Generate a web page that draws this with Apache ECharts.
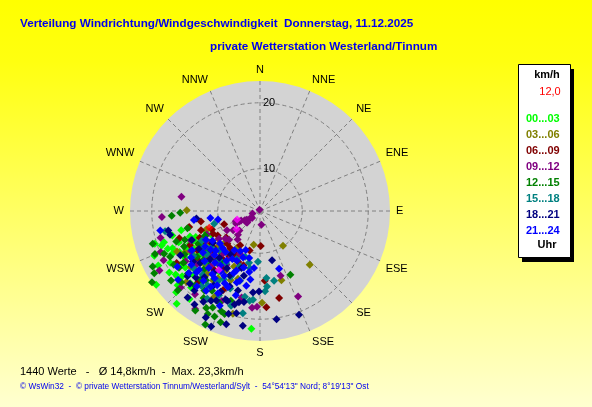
<!DOCTYPE html>
<html lang="de">
<head>
<meta charset="UTF-8">
<title>Windrose</title>
<script src="https://cdn.jsdelivr.net/npm/echarts@6.0.0/dist/echarts.min.js"></script>
<style>
  html, body { margin: 0; padding: 0; }
  #main { width: 592px; height: 407px; }
</style>
</head>
<body>
<div id="main"></div>
<script>
// Achsen
var dirLabels = ['N', 'NNE', 'NE', 'ENE', 'E', 'ESE', 'SE', 'SSE', 'S', 'SSW', 'SW', 'WSW', 'W', 'WNW', 'NW', 'NNW']
var speedTicks = [10, 20]
var slotNames = ['00...03', '03...06', '06...09', '09...12', '12...15', '15...18', '18...21', '21...24']
var slotColors = ['#00ff00', '#808000', '#800000', '#800080', '#008000', '#008080', '#000080', '#0000ff']

// Messwerte [km/h, Richtung in Grad]
var h00 = [[20.3, 252.7], [21.5, 184.2], [22.9, 234.6], [22.5, 221.9], [15.9, 256.2], [19.4, 250.7], [18.7, 247.8], [17.4, 254.4], [21.1, 241.8], [20.2, 235.9], [21.3, 225.9], [20.7, 218.7], [16.2, 243], [15.1, 240], [14.6, 246], [17.0, 238], [16.5, 232], [18.2, 236], [13.8, 242], [15.5, 229], [17.6, 226], [19.0, 230], [14.2, 235], [12.9, 238], [16.8, 249], [18.4, 244], [13.5, 228], [15.9, 222], [17.9, 219], [14.7, 214], [12.6, 231], [11.8, 244], [19.3, 240], [16.0, 236], [14.9, 250], [18.8, 224],
  [15.3, 245], [16.7, 241], [14.1, 248], [17.8, 233], [13.2, 240], [15.8, 238], [16.9, 229], [18.0, 247], [14.5, 231], [12.4, 250], [17.3, 243], [15.0, 234],
  [19.6, 233], [20.4, 228], [18.9, 252], [21.0, 247], [19.2, 222]]
var h03 = [[14.7, 270.5], [8.8, 190.6], [9.9, 146.4], [14.7, 137.2], [14.6, 162.8], [17.5, 178.7], [19.7, 194.8], [12.2, 250.9], [13.4, 232], [15.2, 225], [11.6, 218], [14.1, 210], [16.3, 214], [10.8, 228], [12.9, 205], [15.7, 236], [13.0, 244], [17.1, 231], [11.2, 236], [14.4, 198], [12.3, 222], [16.6, 241], [10.2, 212], [13.9, 217], [15.0, 203],
  [12.6, 238], [14.9, 229], [11.8, 209], [13.5, 224], [16.0, 220], [12.0, 230], [14.2, 241], [15.6, 212],
  [18.3, 208], [19.1, 226], [17.6, 244]]
var h06 = [[12.7, 260], [9.4, 249.7], [8.9, 178.8], [14.2, 176.1], [17.1, 167.6], [18.2, 176.2], [14.6, 257.2], [16.5, 251.4], [9.8, 194.7], [11.0, 240], [12.4, 236], [13.6, 246], [10.6, 225], [11.9, 214], [13.1, 229], [12.0, 203], [14.8, 238], [10.1, 232], [12.8, 219], [15.4, 244], [11.4, 249], [13.7, 221], [9.6, 210], [12.2, 197], [14.0, 213],
  [11.5, 244], [13.3, 241], [12.6, 232], [14.4, 227], [10.8, 219], [15.6, 233], [11.2, 208], [13.0, 252], [12.1, 226], [14.9, 218],
  [17.9, 221], [16.8, 205], [18.5, 238]]
var h09 = [[15.7, 280.2], [18.5, 266.5], [19.2, 255], [19.9, 247.6], [3.8, 337], [5.5, 233.6], [6.3, 238.7], [6.3, 229.5], [5.7, 174.1], [13.9, 162.4], [17.8, 156], [18.1, 181.8], [18.3, 184.7], [21.4, 213.5], [21.3, 239.4], [4.8, 251], [6.2, 228], [6.8, 243.4], [7.1, 243], [7.7, 241.9], [8.6, 234.4], [7.9, 226.5], [9.4, 239.7], [6.0, 236], [5.2, 228], [7.6, 247], [10.3, 231], [11.6, 226], [12.9, 241], [9.1, 218], [14.3, 233], [13.2, 212], [16.1, 230], [10.8, 205], [15.0, 247], [12.1, 221], [17.2, 236], [8.5, 223],
  [11.1, 236], [13.6, 228], [12.4, 246], [14.8, 222], [10.0, 227], [15.7, 240], [11.9, 212],
  [19.6, 218], [20.3, 226], [18.4, 203], [17.0, 192], [20.0, 243]]
var h12 = [[15.7, 268.8], [17.0, 267], [20.8, 247.8], [14.3, 154.5], [22.2, 239.5], [23.2, 236.6], [21.5, 199.5], [21.0, 203.3], [22.7, 205.7], [19.9, 201.1], [21.9, 242.7], [14.9, 256.7], [20.7, 232], [19.7, 227.9], [19.9, 206.1], [21.1, 206.9], [20.1, 199], [20.6, 253], [16.8, 240], [15.4, 234], [18.1, 229], [17.3, 221], [13.9, 238], [18.9, 243], [16.0, 214], [14.5, 226], [12.7, 246], [17.7, 211], [15.8, 249], [13.3, 217],
  [16.3, 245], [17.6, 236], [15.0, 229], [18.6, 235], [14.2, 242], [16.9, 218], [19.0, 238], [13.6, 232], [17.1, 250], [15.9, 224], [18.3, 215],
  [19.3, 213], [20.4, 209], [18.6, 221], [20.9, 226], [19.5, 246], [18.8, 204], [21.6, 213], [17.9, 198]]
var h15 = [[18.3, 258], [10.8, 254.5], [14.4, 168.6], [15.1, 174.7], [15.8, 176.4], [17.3, 186.6], [17.1, 184.5], [19.3, 189.5], [11.3, 182.3], [13.8, 174.5], [12.4, 190], [14.6, 196], [16.2, 201], [11.7, 206], [13.0, 213], [15.3, 208], [17.4, 215], [12.1, 226], [14.0, 231], [16.6, 222], [10.9, 198], [15.8, 236], [18.0, 218], [13.5, 243],
  [13.2, 220], [15.0, 227], [12.5, 200], [14.5, 204], [16.0, 211], [11.6, 192], [13.9, 237], [16.9, 229], [12.8, 233],
  [18.6, 197], [17.8, 206], [19.1, 211], [16.8, 190]]
var h18 = [[17.8, 258], [17.7, 255.2], [13.3, 263.2], [11.3, 166.3], [20.4, 159.4], [20.2, 171.3], [21.2, 188.5], [18.3, 195.2], [17.8, 193], [15.8, 180.7], [16.0, 184.9], [22.6, 202.9], [21.5, 196.6], [20.7, 219.9], [19.2, 219.5], [19.1, 208.6], [18.1, 199.9], [16.1, 195.5], [18.0, 201.2], [19.5, 193], [14.4, 205], [13.0, 221], [15.6, 229], [16.9, 212], [12.2, 236], [17.4, 241], [14.8, 247], [11.5, 214], [13.7, 194],
  [15.2, 217], [14.1, 226], [16.3, 233], [17.6, 224], [13.6, 210], [12.7, 198], [15.9, 202], [17.2, 206], [14.5, 238], [18.4, 228], [16.7, 220],
  [19.8, 212], [20.9, 215], [18.7, 206], [17.6, 190], [19.9, 197], [21.7, 207], [18.9, 224]]
var h21 = [[19.0, 259], [13.7, 262.2], [11.2, 261.9], [10.1, 258.4], [12.8, 161.7], [13.3, 201.7], [15.1, 190.4], [14.6, 196.3], [12.0, 210], [13.8, 216], [15.2, 222], [11.1, 200], [12.6, 228], [14.3, 234], [16.4, 226], [10.4, 206], [13.0, 190], [11.7, 220], [15.9, 214], [17.2, 219], [12.9, 242], [14.8, 209], [16.1, 203], [10.9, 193], [13.5, 237], [11.4, 231], [17.6, 207], [15.5, 240], [12.3, 186], [9.9, 200], [14.1, 188], [16.8, 232], [18.2, 214],
  [12.7, 214], [14.0, 221], [13.2, 226], [15.6, 217], [11.9, 205], [14.9, 228], [16.6, 210], [12.5, 196], [13.8, 203], [15.0, 198], [11.6, 225], [14.5, 213], [16.2, 236], [13.1, 232], [12.1, 238], [17.0, 226], [10.7, 213], [15.8, 206],
  [18.5, 220], [17.9, 229], [19.2, 203], [18.7, 236], [16.9, 196], [17.3, 213], [19.8, 230]]
var redPts = [[11.7, 251.7]]
var pinkPts = [[7.3, 249.5], [8.1, 232.2], [14.5, 215]]
var calm = [[3.6, 0]]

var slots = [h00, h03, h06, h09, h12, h15, h18, h21]

var font = 'Liberation Sans'
var grid = { color: '#808080', width: 1, type: [4, 3] }
var chart = echarts.init(document.getElementById('main'))

var series = [{
  type: 'scatter',
  coordinateSystem: 'polar',
  polarIndex: 0,
  data: calm,
  symbol: 'rect',
  symbolSize: 6,
  itemStyle: { color: '#909090' },
  z: 3,
  silent: true
}]
slots.forEach(function (d, i) {
  series.push({
    name: slotNames[i],
    type: 'scatter',
    coordinateSystem: 'polar',
    polarIndex: 0,
    data: d,
    symbol: 'diamond',
    symbolSize: 8,
    itemStyle: { color: slotColors[i], opacity: 1 },
    z: 3,
    silent: true
  })
})
series.push({ type: 'scatter', coordinateSystem: 'polar', polarIndex: 0, data: redPts, symbol: 'diamond', symbolSize: 8, itemStyle: { color: '#ff0000' }, z: 3, silent: true })
series.push({ type: 'scatter', coordinateSystem: 'polar', polarIndex: 0, data: pinkPts, symbol: 'diamond', symbolSize: 8, itemStyle: { color: '#ff00ff' }, z: 3, silent: true })

var option = {
  animation: false,
  backgroundColor: {
    type: 'linear', x: 0, y: 0, x2: 0, y2: 1,
    colorStops: [
      { offset: 0, color: '#ffff00' },
      { offset: 0.15, color: '#ffff10' },
      { offset: 1, color: '#ffffd0' }
    ]
  },
  title: [
    { text: 'Verteilung Windrichtung/Windgeschwindigkeit  Donnerstag, 11.12.2025', left: 20, top: 18, padding: 0,
      textStyle: { color: '#0000ee', fontSize: 11.7, fontWeight: 'bold', fontFamily: font } },
    { text: 'private Wetterstation Westerland/Tinnum', left: 210, top: 41, padding: 0,
      textStyle: { color: '#0000ee', fontSize: 11.7, fontWeight: 'bold', fontFamily: font } },
    { text: '1440 Werte   -   Ø 14,8km/h  -  Max. 23,3km/h', left: 20, top: 366, padding: 0,
      textStyle: { color: '#000', fontSize: 11, fontWeight: 'normal', fontFamily: font } },
    { text: '© WsWin32  -  © private Wetterstation Tinnum/Westerland/Sylt  -  54°54\'13" Nord; 8°19\'13" Ost', left: 20, top: 383, padding: 0,
      textStyle: { color: '#0000ee', fontSize: 8.3, fontWeight: 'normal', fontFamily: font } }
  ],
  legend: {
    orient: 'vertical',
    left: 521,
    top: 113,
    padding: 0,
    itemWidth: 0,
    itemHeight: 12,
    itemGap: 4,
    selectedMode: false,
    textStyle: { fontSize: 11, fontWeight: 'bold', fontFamily: font, lineHeight: 12 },
    data: slotNames.map(function (n, i) { return { name: n, textStyle: { color: slotColors[i] } } })
  },
  graphic: [
    { type: 'rect', shape: { x: 522, y: 69, width: 52, height: 193 }, style: { fill: '#000' }, z: 0 },
    { type: 'rect', shape: { x: 518.5, y: 64.5, width: 52, height: 193 }, style: { fill: '#fff', stroke: '#000', lineWidth: 1 }, z: 1 },
    { type: 'text', x: 547, y: 75, z: 2, style: { text: 'km/h', fill: '#000', font: 'bold 11px ' + font, textAlign: 'center', textVerticalAlign: 'middle' } },
    { type: 'text', x: 550, y: 92, z: 2, style: { text: '12,0', fill: '#ff0000', font: '11px ' + font, textAlign: 'center', textVerticalAlign: 'middle' } },
    { type: 'text', x: 547, y: 245, z: 2, style: { text: 'Uhr', fill: '#000', font: 'bold 11px ' + font, textAlign: 'center', textVerticalAlign: 'middle' } }
  ],
  // polar 1 only paints the grey disc underneath
  polar: [
    { center: [260, 211], radius: 130 },
    { center: [260, 211], radius: 130 }
  ],
  angleAxis: [{
    polarIndex: 0,
    type: 'value',
    min: 0,
    max: 360,
    interval: 22.5,
    startAngle: 90,
    clockwise: true,
    z: 2,
    axisLine: { show: false },
    axisTick: { show: false },
    axisLabel: {
      margin: 6,
      color: '#000',
      fontSize: 11,
      fontFamily: font,
      formatter: function (v) { return v >= 360 ? '' : dirLabels[Math.round(v / 22.5)] }
    },
    splitLine: { show: true, lineStyle: grid },
    splitArea: { show: false }
  }, {
    polarIndex: 1,
    type: 'value',
    min: 0,
    max: 360,
    interval: 90,
    startAngle: 90,
    z: 0,
    axisLine: { show: false },
    axisTick: { show: false },
    axisLabel: { show: false },
    splitLine: { show: false },
    splitArea: { show: true, areaStyle: { color: ['#d3d3d3'] } }
  }],
  radiusAxis: [{
    polarIndex: 0,
    type: 'value',
    min: 3.6,
    max: 23.3,
    z: 2,
    axisLine: { show: false },
    axisTick: { show: false, customValues: speedTicks },
    axisLabel: { customValues: speedTicks, margin: -3, align: 'left', color: '#000', fontSize: 11, fontFamily: font },
    splitLine: { show: true, lineStyle: grid }
  }, {
    polarIndex: 1,
    type: 'value',
    min: 0,
    max: 1,
    show: false
  }],
  series: series
}

chart.setOption(option)
</script>
</body>
</html>
